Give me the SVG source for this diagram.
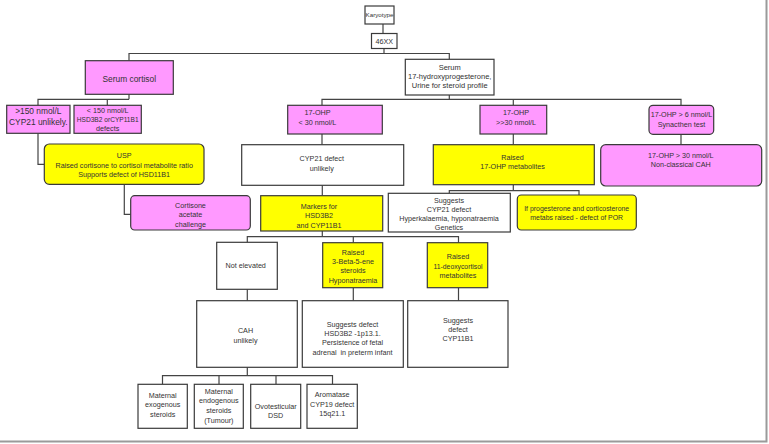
<svg xmlns="http://www.w3.org/2000/svg" width="769" height="444" viewBox="0 0 769 444">
<style>
rect{stroke:#3a3a3a;stroke-width:1.2}
.bg{fill:#ffffff;stroke:none}
.w{fill:#ffffff}
.p{fill:#ff99ff}
.y{fill:#ffff00}
text{font-family:"Liberation Sans",Arial,sans-serif;font-size:7.2px;fill:#333;text-anchor:middle}
.big{font-size:8.4px}
.con{fill:none;stroke:#444;stroke-width:1.2}
</style>
<rect class="bg" x="0" y="0" width="769" height="444"/>
<path d="M766.5,0 V441.5 H0" fill="none" stroke="#9a9a9a" stroke-width="2"/>
<g id="connectors" class="con">
<path d="M383,24 V33.5"/>
<path d="M384,48 V53.5 M129,60.7 V53.5 H449.3 V59.3"/>
<path d="M129,94.3 V99.3 M38,105.3 V99.3 H129 M107.3,99.3 V105.3"/>
<path d="M449.3,95 V99.3 M322,105.3 V99.3 H681 V105.3 M513.3,99.3 V105.3"/>
<path d="M38,133.3 V164.3 H44.3"/>
<path d="M124.3,184.3 V214.3 H130.7"/>
<path d="M322,134 V144.7"/>
<path d="M322.3,185.3 V195.7"/>
<path d="M513.3,134 V144.7"/>
<path d="M513.3,184.7 V190.7 M449.3,193.3 V190.7 H579 V195"/>
<path d="M681,134.3 V144.7"/>
<path d="M322.3,231 V236.7 M247.3,242.3 V236.7 H458.5 V242.7 M353.3,236.7 V242.7"/>
<path d="M247.3,289.3 V300.7"/>
<path d="M353.3,287.7 V300.7"/>
<path d="M458.5,287.7 V300.7"/>
<path d="M247.3,367.3 V375.7 M162.5,384.3 V375.7 H332.5 V384.3 M219,375.7 V384.3 M276,375.7 V384.3"/>
</g>
<g id="karyotype"><rect class="w" x="365" y="6" width="29" height="18"/><text x="379.5" y="17.3" style="font-size:6.2px">Karyotype</text></g>
<g id="n46xx"><rect class="w" x="371.5" y="33.5" width="25.5" height="15"/><text x="384.2" y="43.5">46XX</text></g>
<g id="serum-cortisol"><rect class="p" x="85.3" y="60.7" width="88" height="33.6"/><text class="big" x="129.3" y="82">Serum cortisol</text></g>
<g id="serum-17ohp"><rect class="w" x="405.3" y="59.3" width="88.7" height="35.7"/>
<text x="449.7" y="70.2" style="font-size:7.5px">Serum</text>
<text x="449.7" y="78.6" style="font-size:7.5px">17-hydroxyprogesterone,</text>
<text x="449.7" y="87.6" style="font-size:7.5px">Urine for steroid profile</text></g>
<g id="gt150"><rect class="p" x="6.7" y="105.3" width="63.3" height="28"/>
<text class="big" x="38.3" y="114">&gt;150 nmol/L</text>
<text class="big" x="38.3" y="124.6">CYP21 unlikely.</text></g>
<g id="lt150"><rect class="p" x="74" y="105.3" width="67.3" height="28"/>
<text x="107.7" y="112.8">&lt; 150 nmol/L</text>
<text x="107.7" y="121.5" style="font-size:6.6px">HSD3B2 orCYP11B1</text>
<text x="107.7" y="130.5">defects</text></g>
<g id="ohp-lt30"><rect class="p" x="287.7" y="105.3" width="94.6" height="28.7"/>
<text x="317.5" y="115.2">17-OHP</text>
<text x="317.5" y="125.2">&lt; 30 nmol/L</text></g>
<g id="ohp-gt30"><rect class="p" x="480" y="105.3" width="66.7" height="28.7"/>
<text x="516" y="115.2">17-OHP</text>
<text x="516" y="125.2">&gt;&gt;30 nmol/L</text></g>
<g id="ohp-gt6"><rect class="p" x="649" y="105.3" width="64.7" height="29" rx="4"/>
<text x="681.5" y="116.8">17-OHP &gt; 6 nmol/L</text>
<text x="681.5" y="126.5">Synacthen test</text></g>
<g id="usp"><rect class="y" x="44.3" y="144" width="159.7" height="40.3" rx="5"/>
<text x="124.2" y="158.2">USP</text>
<text x="124.2" y="167.8">Raised cortisone to cortisol metabolite ratio</text>
<text x="124.2" y="176.8">Supports defect of HSD11B1</text></g>
<g id="cortisone"><rect class="p" x="130.7" y="195.7" width="119.6" height="34.3" rx="4"/>
<text x="190.5" y="207.5">Cortisone</text>
<text x="190.5" y="216.8">acetate</text>
<text x="190.5" y="226.5">challenge</text></g>
<g id="cyp21-unlikely"><rect class="w" x="241.7" y="144.7" width="162" height="40.6"/>
<text x="321.8" y="160.8">CYP21 defect</text>
<text x="321.8" y="170.8">unlikely</text></g>
<g id="markers"><rect class="y" x="260.7" y="195.7" width="122" height="35.3"/>
<text x="319" y="208.5">Markers for</text>
<text x="319" y="218.2">HSD3B2</text>
<text x="319" y="227.5">and CYP11B1</text></g>
<g id="raised-17ohp"><rect class="y" x="433.3" y="144.7" width="161" height="40"/>
<text x="512.5" y="159.8">Raised</text>
<text x="512.5" y="169.2">17-OHP metabolites</text></g>
<g id="suggests-cyp21"><rect class="w" x="388.3" y="193.3" width="122" height="38.7"/>
<text x="449" y="202.8">Suggests</text>
<text x="449" y="211.8">CYP21 defect</text>
<text x="449" y="221.2">Hyperkalaemia, hyponatraemia</text>
<text x="449" y="230.2">Genetics</text></g>
<g id="por"><rect class="y" x="517.3" y="195" width="119" height="35" rx="4"/>
<text x="576.7" y="210.8" style="font-size:6.9px">If progesterone and corticosterone</text>
<text x="576.7" y="219.8" style="font-size:6.9px">metabs raised - defect of POR</text></g>
<g id="nonclassical"><rect class="p" x="600.7" y="144.7" width="161" height="41.3" rx="5"/>
<text x="680.8" y="157.5">17-OHP &gt; 30 nmol/L</text>
<text x="680.8" y="166.8">Non-classical CAH</text></g>
<g id="not-elevated"><rect class="w" x="216.7" y="242.3" width="60.6" height="47"/>
<text x="245.7" y="267.5">Not elevated</text></g>
<g id="raised-3beta"><rect class="y" x="322.7" y="242.7" width="60" height="45"/>
<text x="353" y="254.5">Raised</text>
<text x="353" y="263.8">3-Beta-5-ene</text>
<text x="353" y="273.2">steroids</text>
<text x="353" y="282.5">Hyponatraemia</text></g>
<g id="raised-11deoxy"><rect class="y" x="427.3" y="242.7" width="60.4" height="45"/>
<text x="458" y="259.2">Raised</text>
<text x="458" y="268.5" style="font-size:6.8px">11-deoxycortisol</text>
<text x="458" y="277.8">metabolites</text></g>
<g id="cah-unlikely"><rect class="w" x="196.7" y="300.7" width="100.6" height="66.6"/>
<text x="245.5" y="332.5">CAH</text>
<text x="245.5" y="342.5">unlikely</text></g>
<g id="suggests-hsd3b2"><rect class="w" x="302.3" y="300.7" width="101" height="66.6"/>
<text x="352.5" y="326.8">Suggests defect</text>
<text x="352.5" y="335.8">HSD3B2 -1p13.1.</text>
<text x="352.5" y="345.2">Persistence of fetal</text>
<text x="352.5" y="355" xml:space="preserve">adrenal  in preterm infant</text></g>
<g id="suggests-cyp11b1"><rect class="w" x="407.7" y="300.7" width="100.3" height="66.6"/>
<text x="458" y="322.5">Suggests</text>
<text x="458" y="331.8">defect</text>
<text x="458" y="341.2">CYP11B1</text></g>
<g id="maternal-exo"><rect class="w" x="138" y="384.3" width="49.3" height="44"/>
<text x="162.7" y="397.5">Maternal</text>
<text x="162.7" y="407.2">exogenous</text>
<text x="162.7" y="416.8">steroids</text></g>
<g id="maternal-endo"><rect class="w" x="194.3" y="384.3" width="49" height="44"/>
<text x="218.8" y="393.5">Maternal</text>
<text x="218.8" y="403.3">endogenous</text>
<text x="218.8" y="413">steroids</text>
<text x="218.8" y="422.5">(Tumour)</text></g>
<g id="ovotesticular"><rect class="w" x="250.7" y="384.3" width="50" height="44"/>
<text x="275.7" y="408.5">Ovotesticular</text>
<text x="275.7" y="418">DSD</text></g>
<g id="aromatase"><rect class="w" x="307" y="384.3" width="50.3" height="44"/>
<text x="332.2" y="396.8">Aromatase</text>
<text x="332.2" y="406.8">CYP19 defect</text>
<text x="332.2" y="415.8">15q21.1</text></g>
</svg>
